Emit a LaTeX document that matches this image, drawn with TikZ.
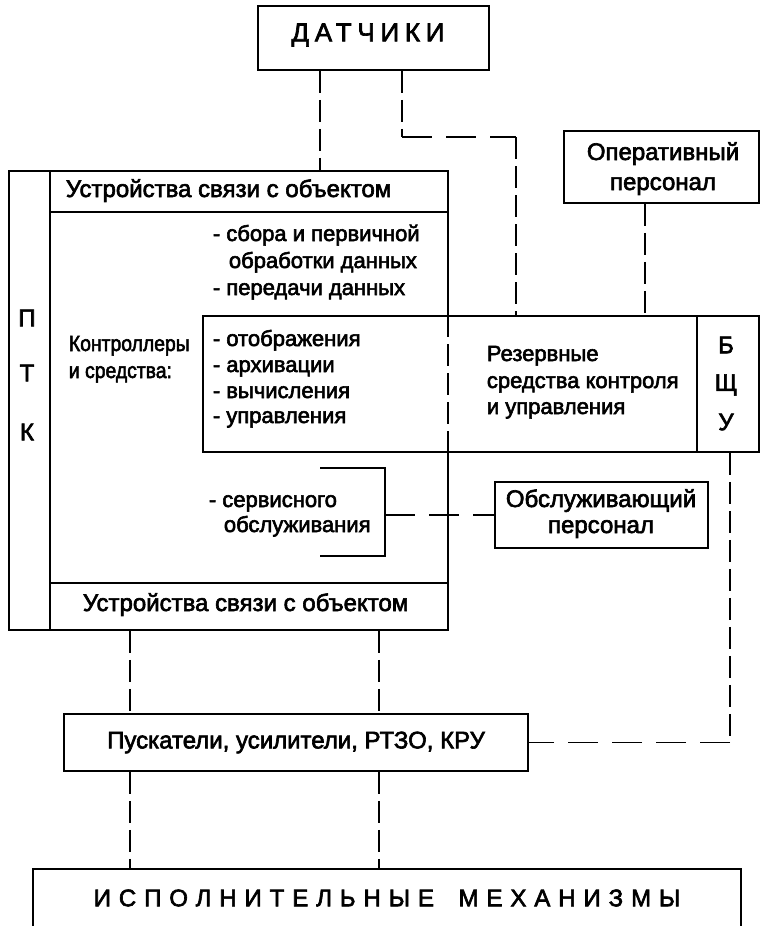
\documentclass[tikz,border=0pt]{standalone}
\usepackage{fontspec}
\setmainfont{Liberation Sans}[FakeBold=2.6]
\begin{document}
\begin{tikzpicture}[x=1pt,y=-1pt,
  line width=1.8pt,
  txt/.style={inner sep=0pt, font=\fontsize{24}{26}\selectfont},
  sm/.style={inner sep=0pt, anchor=base west, font=\fontsize{22}{24}\selectfont},
  lt/.style={txt, anchor=base west},
  ct/.style={txt, anchor=center},
  dv/.style={dash pattern=on 22pt off 7pt},
  dh/.style={dash pattern=on 30pt off 14pt},
  box/.style={draw, inner sep=0pt, font=\fontsize{24}{26}\selectfont}]
\useasboundingbox (0,0) rectangle (760,926);

% columns for connectors
\coordinate (cA) at (320,0);
\coordinate (cB) at (402,0);
\coordinate (cC) at (516,0);
\coordinate (cD) at (645,0);
\coordinate (cE) at (730,0);
\coordinate (cF) at (130,0);
\coordinate (cG) at (379,0);
\coordinate (cH) at (448,0);
\coordinate (t1) at (402,137);
\coordinate (t2) at (516,137);

% boxes
\node[box, minimum width=231pt, minimum height=64pt] (datch) at (373.5,38) {};
\node[inner sep=0pt, font=\fontsize{26}{28}\selectfont] (datchT) at (368,35) {\addfontfeature{LetterSpace=22}ДАТЧИКИ};

\node[box, minimum width=195pt, minimum height=72pt] (oper) at (661.5,167) {};
\node[lt, anchor=base] (oper1) at (663,160) {Оперативный};
\node[lt, anchor=base] (oper2) at (663,190) {персонал};

\node[box, minimum width=439pt, minimum height=459pt] (ptk) at (228.5,400.5) {};
\draw (50,171) -- (50,630);
\draw (50,212) -- (448,212);
\draw (50,583) -- (448,583);
\node[lt] (hdr) at (65,197) {Устройства связи с объектом};
\node[lt] (ftr) at (82,611) {Устройства связи с объектом};
\node[ct] (p1) at (27,318) {П};
\node[ct] (p2) at (27,373) {Т};
\node[ct] (p3) at (27,432) {К};

\node[sm] (s1) at (212,241) {- сбора и первичной};
\node[sm] (s2) at (228,268) {обработки данных};
\node[sm] (s3) at (212,295) {- передачи данных};

\node[sm] (k1) at (68,351) {\scalebox{0.88}[1]{Контроллеры}};
\node[sm] (k2) at (68,378) {\scalebox{0.88}[1]{и средства:}};

\node[box, fill=white, minimum width=556pt, minimum height=136pt] (res) at (481,384) {};
\draw (697,316) -- (697,452);
\draw[dv] (res.north -| cH) -- (res.south -| cH);

\node[sm] (r1) at (212,346) {- отображения};
\node[sm] (r2) at (212,372) {- архивации};
\node[sm] (r3) at (212,398) {- вычисления};
\node[sm] (r4) at (212,423) {- управления};

\node[sm] (z1) at (486,361) {Резервные};
\node[sm] (z2) at (486,388) {средства контроля};
\node[sm] (z3) at (486,414) {и управления};

\node[ct] (b1) at (726,345) {Б};
\node[ct] (b2) at (726,385) {Щ};
\node[ct] (b3) at (726,422) {У};

% service bracket
\draw (320,468) -- (385,468) -- (385,556) -- (320,556);
\coordinate (brk) at (385,515);
\node[sm] (sv1) at (208,507) {- сервисного};
\node[sm] (sv2) at (223,532) {обслуживания};

\node[box, minimum width=213pt, minimum height=66pt] (obs) at (601.5,515) {};
\node[lt, anchor=base] (obs1) at (601,507) {Обслуживающий};
\node[lt, anchor=base] (obs2) at (601,533) {персонал};

\node[box, minimum width=464pt, minimum height=57pt] (pusk) at (296,742.5) {Пускатели, усилители, РТЗО, КРУ};

\node[box, minimum width=708pt, minimum height=80pt] (isp) at (387,909) {};
\node[ct] (ispT) at (387,898) {\addfontfeature{LetterSpace=33}ИСПОЛНИТЕЛЬНЫЕ\hspace{10pt} МЕХАНИЗМЫ};

% connectors
\draw[dv] (datch.south -| cA) -- (ptk.north -| cA);
\draw[dv] (datch.south -| t1) -- (t1);
\draw[dh] (t1) -- (t2);
\draw[dv] (t2) -- (res.north -| t2);
\draw[dv] (oper.south -| cD) -- (res.north -| cD);
\draw[dh] (brk) -- (obs.west);
\draw[dv] (res.south -| cE) -- (cE |- pusk.east);
\draw[dh] (cE |- pusk.east) -- (pusk.east);
\draw[dv] (ptk.south -| cF) -- (pusk.north -| cF);
\draw[dv] (ptk.south -| cG) -- (pusk.north -| cG);
\draw[dv] (pusk.south -| cF) -- (isp.north -| cF);
\draw[dv] (pusk.south -| cG) -- (isp.north -| cG);
\end{tikzpicture}
\end{document}
